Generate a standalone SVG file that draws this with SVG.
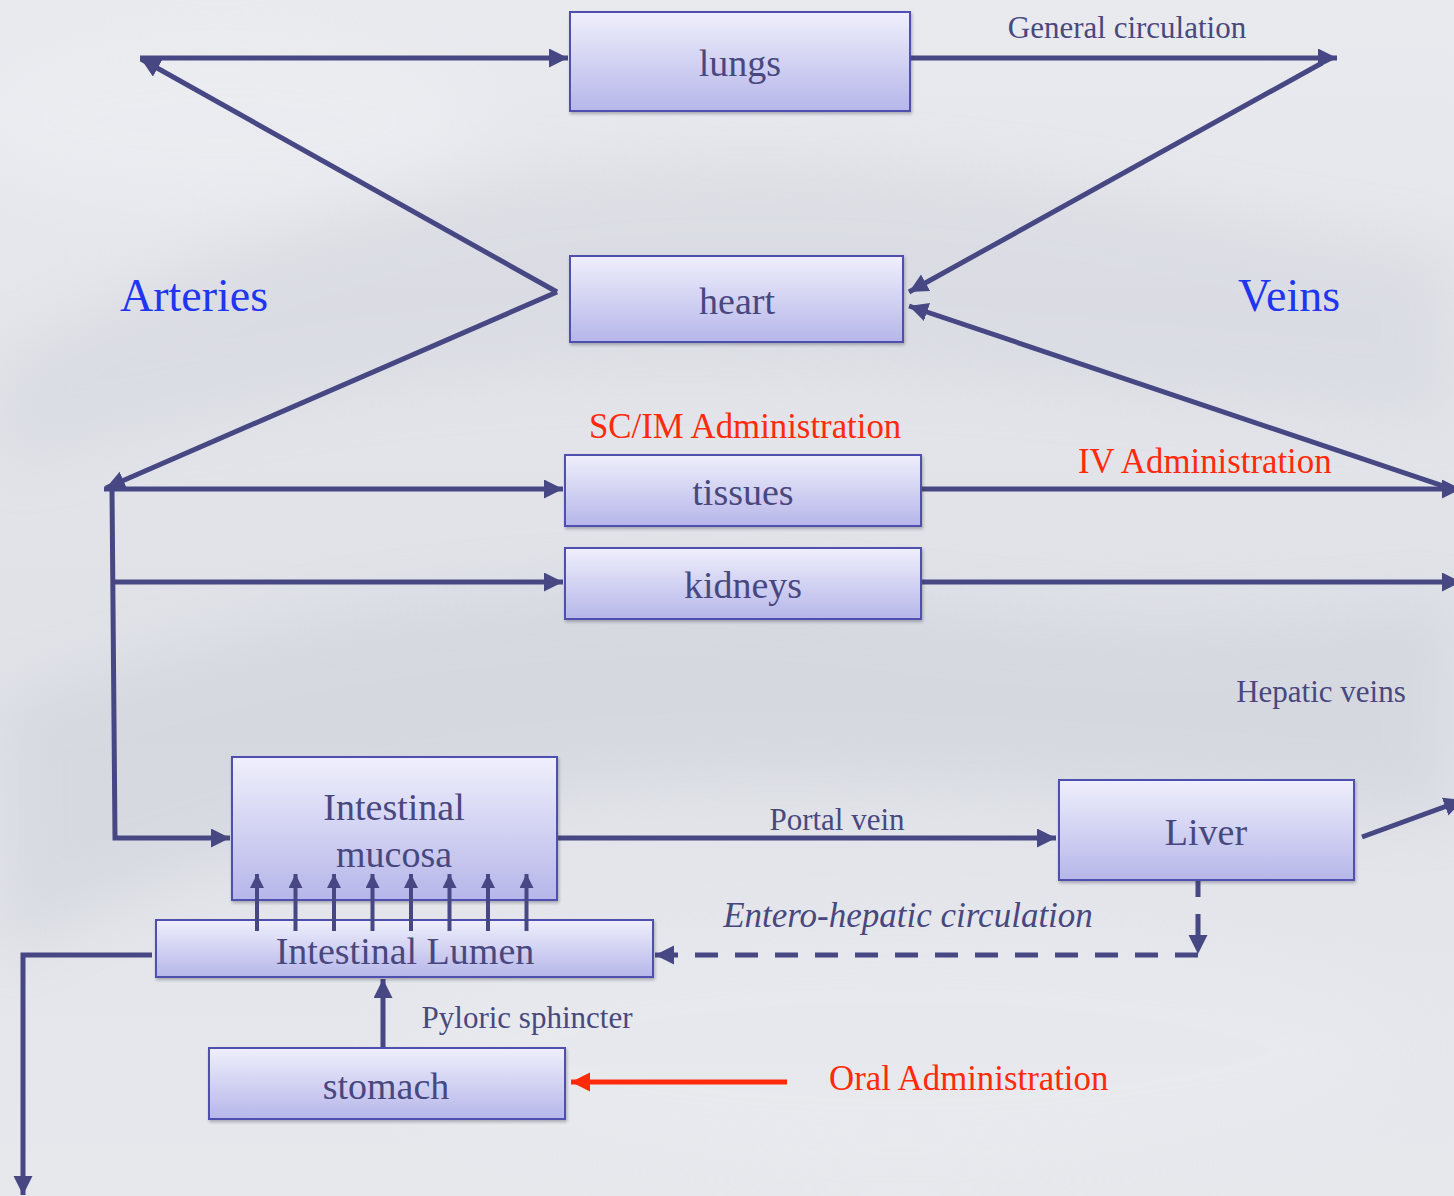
<svg xmlns="http://www.w3.org/2000/svg" width="1454" height="1196" viewBox="0 0 1454 1196">
<defs>
<style>
.box{fill:url(#boxg);stroke:#4f4fb0;stroke-width:2;filter:url(#sh)}
.lbl{font-family:"Liberation Serif","Times New Roman",serif;fill:#48487f;text-anchor:middle}
.node{font-size:38px}
.small{font-size:31px}
.red{font-family:"Liberation Serif","Times New Roman",serif;fill:#ff2a0a;font-size:34.8px}
.blue{font-family:"Liberation Serif","Times New Roman",serif;fill:#1f35f0;font-size:46px}
.ln{stroke:#474784;stroke-width:5;fill:none}
.thin{stroke:#474784;stroke-width:4;fill:none}
.dash{stroke:#474784;stroke-width:5;fill:none;stroke-dasharray:23 17}
</style>
<linearGradient id="boxg" x1="0" y1="0" x2="0" y2="1">
<stop offset="0" stop-color="#efeffc"/>
<stop offset="1" stop-color="#b6b6ea"/>
</linearGradient>
<linearGradient id="bg" x1="0" y1="0" x2="0" y2="1">
<stop offset="0" stop-color="#e9eaee"/>
<stop offset="0.5" stop-color="#e0e2e8"/>
<stop offset="1" stop-color="#e6e8ec"/>
</linearGradient>
<filter id="sh" x="-5%" y="-10%" width="115%" height="130%">
<feDropShadow dx="1" dy="2" stdDeviation="1.5" flood-color="#303040" flood-opacity="0.35"/>
</filter>
<filter id="blur" x="-20%" y="-20%" width="140%" height="140%"><feGaussianBlur stdDeviation="30"/></filter>
<marker id="ah" markerUnits="userSpaceOnUse" markerWidth="22" markerHeight="22" refX="19" refY="9.5" orient="auto">
<path d="M0,0 L19,9.5 L0,19 z" fill="#474784"/>
</marker>
<marker id="ahs" markerUnits="userSpaceOnUse" markerWidth="16" markerHeight="16" refX="14" refY="7" orient="auto">
<path d="M0,0 L14,7 L0,14 z" fill="#474784"/>
</marker>
<marker id="ahr" markerUnits="userSpaceOnUse" markerWidth="22" markerHeight="22" refX="19" refY="9.5" orient="auto">
<path d="M0,0 L19,9.5 L0,19 z" fill="#ff2a0a"/>
</marker>
</defs>
<rect x="0" y="0" width="1454" height="1196" fill="url(#bg)"/>
<g filter="url(#blur)" opacity="0.35">
<path d="M0,360 C200,250 400,170 700,160 C1000,150 1200,220 1454,250 L1454,420 C1100,400 700,330 300,400 C150,430 60,450 0,470 Z" fill="#c9ccd6"/>
<path d="M0,700 C300,600 600,560 900,600 C1100,630 1300,620 1454,600 L1454,820 C1100,800 800,760 500,800 C300,830 100,900 0,960 Z" fill="#c3c6d1"/>
<ellipse cx="220" cy="120" rx="260" ry="90" fill="#f2f3f6"/>
<ellipse cx="900" cy="1050" rx="500" ry="120" fill="#eceef2"/>
</g>

<g id="connectors">
<line class="ln" x1="557" y1="292" x2="141" y2="59" marker-end="url(#ah)"/>
<line class="ln" x1="140" y1="58" x2="568" y2="58" marker-end="url(#ah)"/>
<line class="ln" x1="908" y1="58" x2="1337" y2="58" marker-end="url(#ah)"/>
<line class="ln" x1="1322" y1="63" x2="909" y2="292" marker-end="url(#ah)"/>
<line class="ln" x1="1458" y1="491" x2="909" y2="306" marker-end="url(#ah)"/>
<line class="ln" x1="557" y1="292" x2="106" y2="488" marker-end="url(#ah)"/>
<line class="ln" x1="104" y1="489" x2="563" y2="489" marker-end="url(#ah)"/>
<path class="ln" d="M112,489 L115,838 L230,838" marker-end="url(#ah)"/>
<line class="ln" x1="113" y1="582" x2="563" y2="582" marker-end="url(#ah)"/>
<line class="ln" x1="920" y1="489" x2="1461" y2="489" marker-end="url(#ah)"/>
<line class="ln" x1="920" y1="582" x2="1461" y2="582" marker-end="url(#ah)"/>
<line class="ln" x1="1362" y1="837" x2="1463" y2="800" marker-end="url(#ah)"/>
<line class="ln" x1="557" y1="838" x2="1056" y2="838" marker-end="url(#ah)"/>
<line class="dash" x1="1198" y1="874" x2="1198" y2="954" marker-end="url(#ah)"/>
<line class="dash" x1="1198" y1="955" x2="655" y2="955" marker-end="url(#ah)"/>
<line class="ln" x1="383" y1="1049" x2="383" y2="979" marker-end="url(#ah)"/>
<path class="ln" d="M152,955 L23,955 L23,1195" marker-end="url(#ah)"/>
<line x1="787" y1="1082" x2="571" y2="1082" stroke="#ff2a0a" stroke-width="5" marker-end="url(#ahr)"/>
</g>

<g id="lungs"><rect class="box" x="570" y="12" width="340" height="99"/><text class="lbl node" x="740" y="76">lungs</text></g>
<g id="heart"><rect class="box" x="570" y="256" width="333" height="86"/><text class="lbl node" x="737" y="314">heart</text></g>
<g id="tissues"><rect class="box" x="565" y="455" width="356" height="71"/><text class="lbl node" x="743" y="505">tissues</text></g>
<g id="kidneys"><rect class="box" x="565" y="548" width="356" height="71"/><text class="lbl node" x="743" y="598">kidneys</text></g>
<g id="liver"><rect class="box" x="1059" y="780" width="295" height="100"/><text class="lbl node" x="1206" y="845">Liver</text></g>
<g id="mucosa"><rect class="box" x="232" y="757" width="325" height="143"/><text class="lbl node" x="394" y="820">Intestinal</text><text class="lbl node" x="394" y="867">mucosa</text></g>
<g id="lumen"><rect class="box" x="156" y="920" width="497" height="57"/><text class="lbl node" x="405" y="964">Intestinal Lumen</text></g>
<g id="stomach"><rect class="box" x="209" y="1048" width="356" height="71"/><text class="lbl node" x="386" y="1099">stomach</text></g>

<g id="absorption">
<line class="thin" x1="257" y1="931" x2="257" y2="874" marker-end="url(#ahs)"/>
<line class="thin" x1="295.5" y1="931" x2="295.5" y2="874" marker-end="url(#ahs)"/>
<line class="thin" x1="334" y1="931" x2="334" y2="874" marker-end="url(#ahs)"/>
<line class="thin" x1="372.5" y1="931" x2="372.5" y2="874" marker-end="url(#ahs)"/>
<line class="thin" x1="411" y1="931" x2="411" y2="874" marker-end="url(#ahs)"/>
<line class="thin" x1="449.5" y1="931" x2="449.5" y2="874" marker-end="url(#ahs)"/>
<line class="thin" x1="488" y1="931" x2="488" y2="874" marker-end="url(#ahs)"/>
<line class="thin" x1="526.5" y1="931" x2="526.5" y2="874" marker-end="url(#ahs)"/>
</g>

<g id="labels">
<text class="lbl small" x="1127" y="38">General circulation</text>
<text class="blue" x="120" y="311">Arteries</text>
<text class="blue" x="1238" y="311">Veins</text>
<text class="red" x="589" y="438">SC/IM Administration</text>
<text class="red" x="1078" y="473">IV Administration</text>
<text class="lbl small" x="1321" y="702">Hepatic veins</text>
<text class="lbl small" x="837" y="830">Portal vein</text>
<text class="lbl" x="908" y="927" font-size="35" font-style="italic">Entero-hepatic circulation</text>
<text class="lbl small" x="527" y="1028">Pyloric sphincter</text>
<text class="red" x="829" y="1090">Oral Administration</text>
</g>
</svg>
